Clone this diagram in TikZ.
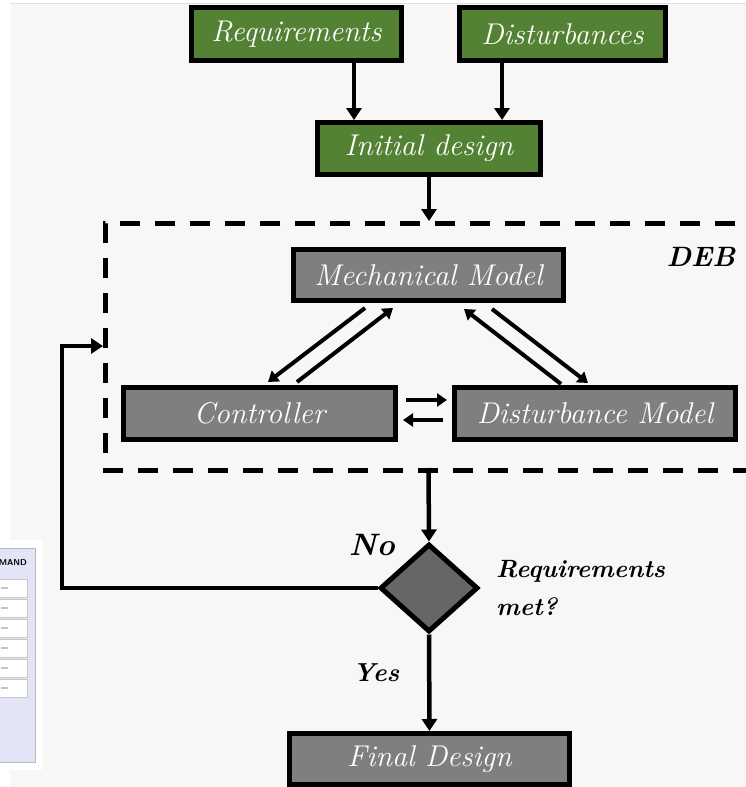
\documentclass[tikz,border=0pt]{standalone}
\usetikzlibrary{arrows.meta,shapes.geometric}

\definecolor{boxgreen}{RGB}{84,130,53}
\definecolor{boxgrey}{RGB}{127,127,127}
\definecolor{decgrey}{RGB}{102,102,102}
\definecolor{panel}{RGB}{248,247,245}
\definecolor{lav}{RGB}{228,228,247}

\newcommand\bxfont{\fontsize{30}{34}\selectfont\itshape}
\newcommand\lblfont{\fontsize{25}{38}\selectfont\bfseries\itshape}

\tikzset{
  box/.style={draw=black, line width=5pt, inner sep=0pt, font=\bxfont, text=white},
  greenbox/.style={box, fill=boxgreen},
  greybox/.style={box, fill=boxgrey},
  decision/.style={diamond, draw=black, line width=5pt, fill=decgrey, inner sep=0pt,
    minimum width=98pt, minimum height=88pt},
  lbl/.style={font=\lblfont, text=black, inner sep=0pt},
  arr/.style={line width=4.5pt, -{Triangle[length=12pt,width=15pt]}},
  thinarr/.style={line width=4pt, -{Triangle[length=10pt,width=13pt]}},
  frame/.style={line width=5pt, dash pattern=on 20pt off 15pt},
}

\begin{document}
\begin{tikzpicture}[x=1pt,y=-1pt]
  \clip (0,0) rectangle (746,787);
  \useasboundingbox (0,0) rectangle (746,787);

  % page background
  \fill[white] (0,0) rectangle (746,787);
  \fill[panel] (10,3) rectangle (746,787);
  \draw[gray!25, line width=0.6pt] (10,3) -- (746,3);

  % side panel fragment
  \fill[white] (0,540) rectangle (42,770);
  \filldraw[fill=lav, draw=gray!55, line width=0.8pt] (-2,548) rectangle (35,762);
  \node[font=\sffamily\bfseries\fontsize{8.5}{9}\selectfont, anchor=east, inner sep=0pt] (mand) at (27,563) {MAND};
  \foreach \i in {0,...,5} {
    \filldraw[fill=white, draw=gray!45, line width=0.7pt] (-2,579+20*\i) rectangle (27,597+20*\i);
    \draw[gray!45, line width=1.2pt] (1,588+20*\i) -- (8,588+20*\i);
  }

  % boxes
  \node[greenbox, minimum width=210pt, minimum height=53pt] (req) at (296.5,34) {Requirements};
  \node[greenbox, minimum width=206pt, minimum height=53pt] (dist) at (562.5,34) {Disturbances};
  \node[greenbox, minimum width=223pt, minimum height=52pt] (init) at (429,148.5) {Initial design};
  \node[greybox, minimum width=270pt, minimum height=51pt] (mech) at (428.5,275) {Mechanical Model};
  \node[greybox, minimum width=272pt, minimum height=52pt] (ctrl) at (259.5,413.5) {Controller};
  \node[greybox, minimum width=281pt, minimum height=52pt] (dmod) at (595,413.5) {Disturbance Model};
  \node[decision] (dec) at (429,588) {};
  \node[greybox, minimum width=280pt, minimum height=51pt] (final) at (429.5,759) {Final Design};

  % labels
  \node[lbl, font=\fontsize{28}{32}\selectfont\bfseries\itshape] (deb) at (701,257) {DEB};
  \node[lbl, font=\fontsize{31}{34}\selectfont\bfseries\itshape] (no) at (372,545) {No};
  \node[lbl, font=\fontsize{26}{30}\selectfont\bfseries\itshape] (yes) at (376,673) {Yes};
  \node[lbl, anchor=base west, align=left] (met) at (496,615) {Requirements\\met?};

  % dashed DEB frame
  \draw[frame] (770,223) -- (105,223) -- (105,470) -- (770,470);
  \coordinate (debtop) at (429,221);
  \coordinate (debbot) at (428.5,468);
  \coordinate (fbtop) at (62,346);
  \coordinate (debleft) at (103,346);

  % top flow
  \draw[arr] ([xshift=57.5pt]req.south) -- ([xshift=57.5pt]req.south |- init.north);
  \draw[arr] ([xshift=-60.5pt]dist.south) -- ([xshift=-60.5pt]dist.south |- init.north);
  \draw[arr] (init.south) -- (debtop);

  % exchanges inside the frame
  \draw[thinarr] ([xshift=-63.5pt,yshift=-5pt]mech.south) -- ([xshift=8.5pt,yshift=3pt]ctrl.north);
  \draw[thinarr] ([xshift=37.5pt,yshift=3pt]ctrl.north) -- ([xshift=-35.5pt,yshift=-5pt]mech.south);
  \draw[thinarr] ([xshift=-34pt,yshift=1pt]dmod.north) -- ([xshift=35.5pt,yshift=-6pt]mech.south);
  \draw[thinarr] ([xshift=63.5pt,yshift=-6pt]mech.south) -- ([xshift=-7pt,yshift=2pt]dmod.north);
  \draw[thinarr] ([xshift=8pt,yshift=13.5pt]ctrl.east) -- ([xshift=-5pt,yshift=13.5pt]dmod.west);
  \draw[thinarr] ([xshift=-9pt,yshift=-6.5pt]dmod.west) -- ([xshift=5pt,yshift=-6.5pt]ctrl.east);

  % decision and feedback
  \draw[arr] (debbot) -- (dec.north);
  \draw[arr] (dec.west) -| (fbtop) -- (debleft);
  \draw[arr] (dec.south) -- (final.north);
\end{tikzpicture}
\end{document}
